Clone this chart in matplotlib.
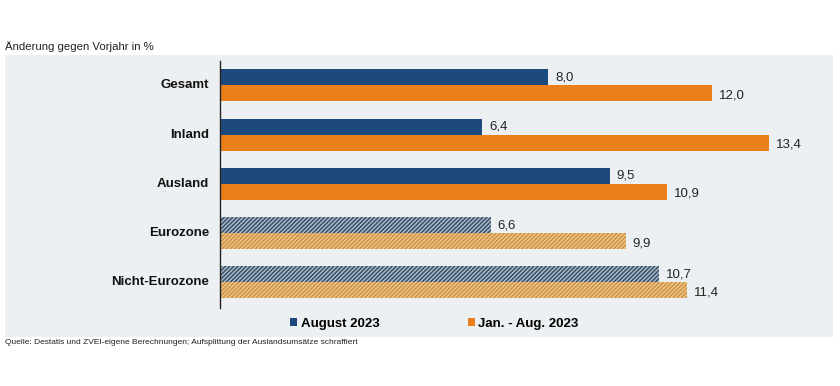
import matplotlib.pyplot as plt
from matplotlib.patches import Rectangle, Patch

plt.rcParams['font.family'] = ['Liberation Sans', 'DejaVu Sans']

# data
categories = ["Gesamt", "Inland", "Ausland", "Eurozone", "Nicht-Eurozone"]
aug_2023 = [8.0, 6.4, 9.5, 6.6, 10.7]
jan_aug_2023 = [12.0, 13.4, 10.9, 9.9, 11.4]
hatched = [False, False, False, True, True]
series_labels = ["August 2023", "Jan. - Aug. 2023"]

blue = "#1c4a7e"
orange = "#e9801c"
blue_hatch_bg = "#b4bec8"
blue_hatch_fg = "#34506c"
orange_hatch_bg = "#edc890"
orange_hatch_fg = "#cf913e"
panel_bg = "#edf0f2"

W, H = 840, 386
fig = plt.figure(figsize=(W / 100, H / 100), dpi=100)
fig.patch.set_facecolor("white")

# grey panel behind the chart
fig.patches.append(Rectangle((5 / W, 1 - 337 / H), 828 / W, 282 / H,
                             transform=fig.transFigure, facecolor=panel_bg,
                             edgecolor="none", zorder=-1))

ax = fig.add_axes([220 / W, 1 - 308 / H, 610 / W, 247 / H])
ax.set_zorder(1)
ax.set_facecolor("none")
ax.set_xlim(0, 610 / 41)
ax.set_ylim(4.518, -0.497)

plt.rcParams['hatch.linewidth'] = 1.1
h = 0.325
for i, cat in enumerate(categories):
    y1 = i - h / 2
    y2 = i + h / 2
    if hatched[i]:
        ax.barh(y1, aug_2023[i], height=h, color=blue_hatch_bg,
                hatch="////////", edgecolor=blue_hatch_fg, linewidth=0)
        ax.barh(y2, jan_aug_2023[i], height=h, color=orange_hatch_bg,
                hatch="////////", edgecolor=orange_hatch_fg, linewidth=0)
    else:
        ax.barh(y1, aug_2023[i], height=h, color=blue)
        ax.barh(y2, jan_aug_2023[i], height=h, color=orange)
    ax.text(aug_2023[i] + 0.17, y1, f"{aug_2023[i]:.1f}".replace(".", ","),
            va="center", ha="left", fontsize=9.5, color="#222222")
    ax.text(jan_aug_2023[i] + 0.17, y2 + 0.04, f"{jan_aug_2023[i]:.1f}".replace(".", ","),
            va="center", ha="left", fontsize=9.5, color="#222222")
    ax.text(-0.27, i, cat, va="center", ha="right", fontsize=9.5,
            fontweight="bold", color="#111111")

for s in ["top", "right", "bottom"]:
    ax.spines[s].set_visible(False)
ax.spines["left"].set_color("#222222")
ax.spines["left"].set_linewidth(1.0)
ax.set_xticks([])
ax.set_yticks([])

handles = [Patch(facecolor=blue, edgecolor="none"),
           Patch(facecolor=orange, edgecolor="none")]
fig.legend(handles, series_labels, loc="center left", bbox_to_anchor=(290 / W, 1 - 324 / H),
           ncol=2, frameon=False, handlelength=0.55, handleheight=0.55,
           handletextpad=0.25, columnspacing=6.7, borderpad=0, borderaxespad=0,
           prop={"weight": "bold", "size": 9.5})

fig.text(5 / W, 1 - 47 / H, "Änderung gegen Vorjahr in %", fontsize=8.2,
         va="center", ha="left", color="#222222")
fig.text(5 / W, 1 - 343 / H,
         "Quelle: Destatis und ZVEI-eigene Berechnungen; Aufsplittung der Auslandsumsätze schraffiert",
         fontsize=6, va="center", ha="left", color="#222222")

fig.savefig("out.png", dpi=100)
